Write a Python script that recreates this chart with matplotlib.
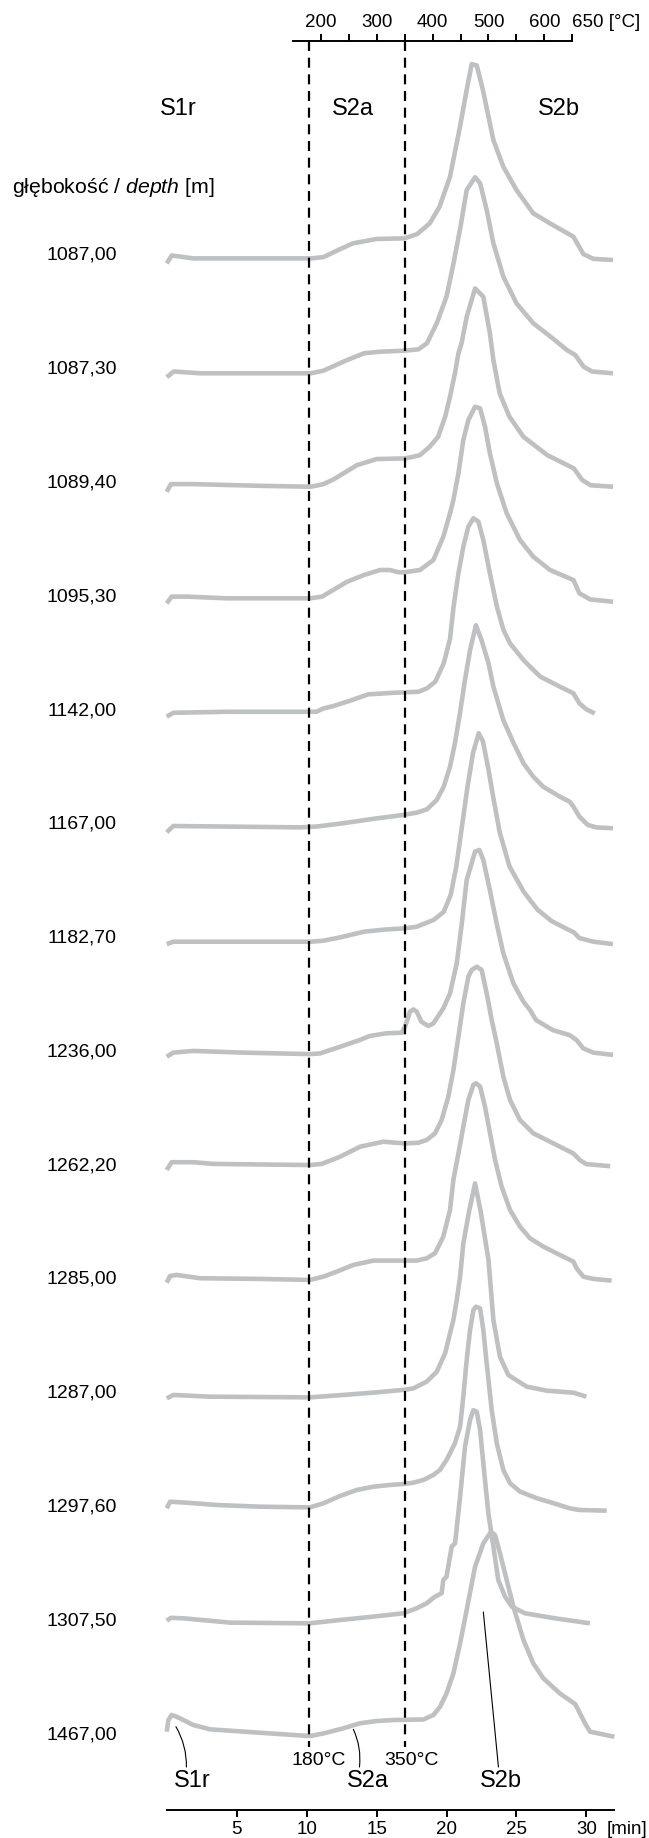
import matplotlib.pyplot as plt
import numpy as np

plt.rcParams['font.family'] = ['Liberation Sans', 'DejaVu Sans']
plt.rcParams['mathtext.fontset'] = 'custom'
plt.rcParams['mathtext.rm'] = 'Liberation Sans'
plt.rcParams['mathtext.it'] = 'Liberation Sans:italic'

# depth of each sample, top to bottom
depths = ['1087,00', '1087,30', '1089,40', '1095,30', '1142,00', '1167,00', '1182,70',
          '1236,00', '1262,20', '1285,00', '1287,00', '1297,60', '1307,50', '1467,00']

# pyrograms: time [min] and signal (in units of the row spacing)
time_1087_00 = [0, 0.36, 1.9, 5.0, 10.3, 11.2, 12.3, 13.3, 15.0, 17.0, 17.9, 18.8, 19.5, 20.25, 20.96,
                21.44, 21.8, 22.16, 22.6, 23.35, 24.06, 25.0, 26.2, 27.6, 29.07, 29.78, 30.5, 31.9]
sig_1087_00 = [-0.10, -0.03, -0.056, -0.056, -0.056, -0.045, 0.02, 0.076, 0.115, 0.12, 0.158, 0.252, 0.398,
               0.662, 1.10, 1.424, 1.652, 1.64, 1.424, 0.984, 0.75, 0.545, 0.34, 0.237, 0.135, -0.018, -0.06, -0.07]

time_1087_30 = [0, 0.5, 2.4, 10.3, 11.2, 12.9, 14.1, 15.25, 17.0, 18.0, 18.6, 19.3, 20.0, 20.5, 21.0, 21.44,
                22.04, 22.4, 22.87, 23.35, 24.06, 25.0, 26.2, 27.6, 28.6, 29.2, 29.8, 30.4, 31.9]
sig_1087_30 = [-0.10, -0.05, -0.066, -0.066, -0.043, 0.051, 0.11, 0.124, 0.133, 0.145, 0.198, 0.374, 0.608,
               0.90, 1.223, 1.545, 1.657, 1.604, 1.37, 1.077, 0.783, 0.549, 0.374, 0.24, 0.139, 0.095,
               -0.008, -0.05, -0.066]

time_1089_40 = [0, 0.3, 1.9, 6.7, 10.3, 11.2, 11.9, 13.6, 15.0, 17.0, 17.6, 18.1, 18.8, 19.4, 19.9, 20.25,
                20.6, 20.85, 21.08, 21.44, 22.04, 22.63, 23.1, 23.35, 23.8, 24.5, 25.5, 27.2, 29.1, 29.7,
                30.3, 31.9]
sig_1089_40 = [-0.107, -0.04, -0.04, -0.055, -0.063, -0.04, 0.0, 0.127, 0.18, 0.186, 0.2, 0.215, 0.289,
               0.376, 0.552, 0.728, 0.933, 1.109, 1.2, 1.43, 1.68, 1.607, 1.285, 1.05, 0.757, 0.552, 0.376,
               0.215, 0.098, -0.004, -0.05, -0.063]

time_1095_30 = [0, 0.35, 1.5, 4.3, 10.24, 11.1, 12.9, 14.1, 15.25, 15.96, 16.56, 17.0, 18.1, 19.06, 19.77,
                20.25, 20.49, 20.85, 21.2, 21.56, 22.04, 22.4, 22.75, 23.1, 23.6, 24.3, 25.25, 26.2, 27.4,
                29.07, 29.5, 30.26, 31.9]
sig_1095_30 = [-0.088, -0.029, -0.029, -0.044, -0.044, -0.029, 0.102, 0.161, 0.205, 0.205, 0.185, 0.185,
               0.205, 0.293, 0.498, 0.703, 0.82, 1.055, 1.348, 1.523, 1.64, 1.626, 1.465, 1.23, 0.967, 0.703,
               0.469, 0.322, 0.205, 0.117, 0.0, -0.053, -0.074]

time_1142_00 = [0, 0.47, 4.3, 10.7, 11.2, 11.9, 13.1, 14.4, 16.2, 18.0, 18.6, 19.2, 19.8, 20.25, 20.5, 20.85,
                21.2, 21.56, 21.92, 22.28, 22.63, 23.1, 23.6, 24.07, 24.54, 25.5, 25.97, 26.7, 28.1, 29.07,
                29.5, 30.0, 30.6]
sig_1142_00 = [-0.084, -0.05, -0.041, -0.041, -0.012, 0.009, 0.056, 0.112, 0.126, 0.135, 0.165, 0.224, 0.385,
               0.6, 0.88, 1.176, 1.41, 1.586, 1.66, 1.63, 1.469, 1.176, 0.883, 0.678, 0.56, 0.414, 0.355,
               0.268, 0.18, 0.121, 0.033, -0.02, -0.055]

time_1167_00 = [0, 0.47, 4.3, 9.5, 10.7, 12.6, 15.0, 16.9, 17.9, 18.6, 19.3, 19.8, 20.25, 20.6, 20.96, 21.32,
                21.68, 22.1, 22.5, 23.0, 23.35, 24.06, 24.8, 25.5, 26.2, 26.9, 28.1, 28.8, 29.07, 29.5, 30.1,
                30.7, 31.9]
sig_1167_00 = [-0.1, -0.045, -0.05, -0.057, -0.05, -0.021, 0.022, 0.052, 0.073, 0.102, 0.184, 0.301, 0.477,
               0.682, 0.946, 1.24, 1.5, 1.72, 1.59, 1.385, 1.18, 0.886, 0.682, 0.506, 0.389, 0.301, 0.213,
               0.169, 0.125, 0.037, -0.036, -0.057, -0.065]

time_1182_70 = [0, 0.47, 10.3, 11.2, 12.4, 14.1, 15.7, 17.0, 17.87, 18.58, 19.06, 19.8, 20.3, 20.7, 21.1,
                21.5, 21.9, 22.3, 22.6, 23.0, 23.35, 23.8, 24.5, 25.5, 26.5, 27.5, 28.6, 29.1, 29.5, 30.5, 31.9]
sig_1182_70 = [-0.083, -0.062, -0.062, -0.053, -0.024, 0.026, 0.046, 0.055, 0.07, 0.105, 0.128, 0.2, 0.35,
               0.6, 0.95, 1.3, 1.6, 1.77, 1.7, 1.45, 1.2, 0.9, 0.6, 0.38, 0.22, 0.12, 0.05, 0.02, -0.03,
               -0.062, -0.083]

time_1236_00 = [0, 0.47, 1.9, 5.5, 10.24, 10.96, 12.4, 13.8, 14.5, 15.7, 16.8, 17.03, 17.39, 17.63, 17.87,
                18.2, 18.7, 19.06, 19.77, 20.25, 20.73, 21.08, 21.44, 21.8, 22.04, 22.35, 22.63, 23.1, 23.58,
                24.06, 24.78, 25.5, 25.97, 26.4, 27.6, 28.8, 29.3, 29.78, 30.5, 31.9]
sig_1236_00 = [-0.073, -0.037, -0.022, -0.037, -0.05, -0.044, 0.015, 0.074, 0.109, 0.133, 0.138, 0.191, 0.323,
               0.343, 0.323, 0.235, 0.197, 0.22, 0.352, 0.484, 0.748, 1.085, 1.48, 1.63, 1.73, 1.744, 1.656,
               1.39, 1.1, 0.835, 0.572, 0.41, 0.337, 0.249, 0.161, 0.117, 0.073, 0.0, -0.037, -0.057]

time_1262_20 = [0, 0.35, 1.9, 3.33, 6.67, 10.24, 11.08, 12.39, 13.82, 15.48, 16.98, 17.99, 18.58, 19.18,
                19.65, 20.13, 20.49, 20.85, 21.2, 21.56, 21.8, 22.16, 22.51, 22.87, 23.23, 23.59, 24.06, 24.54,
                25.25, 26.2, 27.4, 28.35, 29.07, 29.54, 30.0, 31.7]
sig_1262_20 = [-0.068, 0.0, 0.0, -0.015, -0.02, -0.025, -0.015, 0.048, 0.136, 0.18, 0.165, 0.171, 0.195,
               0.254, 0.371, 0.576, 0.81, 1.104, 1.396, 1.63, 1.69, 1.718, 1.69, 1.485, 1.25, 1.045, 0.752,
               0.547, 0.371, 0.254, 0.18, 0.121, 0.077, 0.018, -0.017, -0.035]

time_1285_00 = [0, 0.24, 0.71, 2.38, 6.67, 10.24, 11.2, 12.15, 13.34, 14.77, 16.98, 17.87, 18.58, 19.18,
                19.77, 20.25, 20.49, 20.85, 21.2, 21.56, 21.92, 22.1, 22.4, 22.75, 23.11, 23.47, 23.94, 24.54,
                25.25, 25.97, 26.92, 28.1, 29.07, 29.3, 29.78, 30.5, 31.8]
sig_1285_00 = [-0.059, 0.0, 0.009, -0.02, -0.026, -0.035, -0.006, 0.038, 0.097, 0.135, 0.135, 0.135, 0.155,
               0.2, 0.346, 0.58, 0.844, 1.078, 1.312, 1.547, 1.68, 1.694, 1.665, 1.488, 1.254, 1.02, 0.785,
               0.58, 0.434, 0.331, 0.258, 0.185, 0.126, 0.067, -0.006, -0.026, -0.041]

time_1287_00 = [0, 0.47, 3.1, 10.24, 12.6, 15.0, 17.0, 17.63, 18.58, 19.3, 19.9, 20.25, 20.49, 20.73, 20.97,
                21.2, 21.6, 22.04, 22.45, 23.0, 23.35, 23.82, 24.42, 25.73, 27.16, 29.07, 30.0]
sig_1287_00 = [-0.076, -0.046, -0.061, -0.067, -0.046, -0.023, 0.0, 0.012, 0.071, 0.158, 0.32, 0.496, 0.613,
               0.789, 0.994, 1.286, 1.56, 1.814, 1.56, 1.14, 0.613, 0.29, 0.129, 0.027, -0.008, -0.026, -0.061]

time_1297_60 = [0, 0.24, 1.43, 3.57, 6.67, 10.24, 11.2, 12.39, 13.58, 14.77, 15.96, 17.0, 17.63, 18.35,
                19.06, 19.53, 20.0, 20.25, 20.6, 20.97, 21.2, 21.44, 21.68, 21.92, 22.1, 22.4, 22.63, 22.87,
                23.23, 23.59, 24.06, 24.54, 25.25, 26.44, 27.64, 28.8, 29.5, 31.45]
sig_1297_60 = [-0.042, 0.016, 0.007, -0.013, -0.028, -0.034, 0.002, 0.066, 0.119, 0.148, 0.163, 0.172, 0.183,
               0.207, 0.251, 0.295, 0.383, 0.441, 0.53, 0.676, 0.94, 1.26, 1.525, 1.70, 1.73, 1.715, 1.525,
               1.232, 0.822, 0.53, 0.295, 0.178, 0.105, 0.047, 0.003, -0.042, -0.057, -0.063]

time_1307_50 = [0, 0.3, 1.19, 4.53, 10.24, 12.39, 14.77, 16.91, 17.87, 18.58, 19.18, 19.65, 19.77, 20.0,
                20.37, 20.61, 20.97, 21.32, 21.68, 21.92, 22.16, 22.4, 22.63, 22.99, 23.35, 23.7, 24.18, 24.66,
                25.6, 27.75, 30.25]
sig_1307_50 = [-0.03, -0.005, -0.009, -0.047, -0.053, -0.024, 0.006, 0.035, 0.079, 0.123, 0.182, 0.211,
               0.328, 0.357, 0.621, 0.65, 1.06, 1.5, 1.734, 1.82, 1.807, 1.646, 1.353, 0.914, 0.62, 0.328,
               0.182, 0.094, 0.035, -0.009, -0.053]

time_1467_00 = [0, 0.12, 0.35, 0.59, 1.19, 1.9, 3.1, 6.67, 10.24, 11.2, 12.6, 13.8, 15.0, 16.2, 18.35, 19.06,
                19.54, 20.0, 20.49, 20.97, 21.44, 22.04, 22.63, 23.18, 23.47, 23.82, 24.3, 24.78, 25.5, 26.2,
                26.92, 28.1, 29.2, 29.54, 29.9, 30.26, 32.0]
sig_1467_00 = [-0.006, 0.097, 0.141, 0.132, 0.097, 0.053, 0.015, -0.015, -0.044, -0.021, 0.023, 0.068, 0.088,
               0.097, 0.102, 0.141, 0.214, 0.331, 0.507, 0.771, 1.064, 1.445, 1.65, 1.752, 1.723, 1.562,
               1.328, 1.093, 0.8, 0.595, 0.463, 0.331, 0.237, 0.155, 0.068, -0.006, -0.05]

curves = [(time_1087_00, sig_1087_00), (time_1087_30, sig_1087_30), (time_1089_40, sig_1089_40),
          (time_1095_30, sig_1095_30), (time_1142_00, sig_1142_00), (time_1167_00, sig_1167_00),
          (time_1182_70, sig_1182_70), (time_1236_00, sig_1236_00), (time_1262_20, sig_1262_20),
          (time_1285_00, sig_1285_00), (time_1287_00, sig_1287_00), (time_1297_60, sig_1297_60),
          (time_1307_50, sig_1307_50), (time_1467_00, sig_1467_00)]

temp_ticks = [200, 250, 300, 350, 400, 450, 500, 550, 600, 650]
temp_labels = ['200', '', '300', '', '400', '', '500', '', '600', '650 [°C]']
time_ticks = [5, 10, 15, 20, 25, 30]
limit_temps = [180, 350]
regions = ['S1r', 'S2a', 'S2b']


def to_temp(t):
    return 25 * np.asarray(t) - 75  # 25 C/min heating


def to_time(T):
    return (np.asarray(T) + 75) / 25


fig = plt.figure(figsize=(6.49, 18.38), dpi=100)
ax = fig.add_axes([0.2569, 0.01523, 0.6898, 0.9626])
ax.set_xlim(0, 32)
ax.set_ylim(-13.694, 1.857)

grey = '#bfc0c2'
for i, (t, s) in enumerate(curves):
    ax.plot(t, np.array(s) - i, color=grey, lw=3.3, solid_joinstyle='round',
            solid_capstyle='butt', clip_on=False, zorder=2)
    ax.text(-6.08, -i - 0.07, depths[i], ha='center', va='baseline', fontsize=14)

ybot = -13.14
for T in limit_temps:
    x = float(to_time(T))
    ax.plot([x, x], [1.857, ybot], color='k', lw=1.6, dashes=(4.5, 3), zorder=3, clip_on=False)

ax.text(-11.08, 0.516, 'głębokość / $\\mathit{depth}$ [m]', fontsize=15.3, va='baseline', ha='left')

# region names at the top
for name, x in zip(regions, [0.85, 13.28, 28.06]):
    ax.text(x, 1.204, name, ha='center', va='baseline', fontsize=17)

# region names at the bottom with leader lines
arrow = dict(arrowstyle='-', lw=0.8, color='k', shrinkA=0, shrinkB=0)
ax.annotate(regions[0], xy=(0.66, -12.962), xytext=(1.79, -13.49), ha='center', va='baseline',
            fontsize=17, arrowprops=dict(arrow, connectionstyle='arc3,rad=0.15', relpos=(0.35, 1)))
ax.annotate(regions[1], xy=(13.34, -12.985), xytext=(14.35, -13.49), ha='center', va='baseline',
            fontsize=17, arrowprops=dict(arrow, connectionstyle='arc3,rad=0.15', relpos=(0.3, 1)))
ax.annotate(regions[2], xy=(22.63, -11.953), xytext=(23.88, -13.49), ha='center', va='baseline',
            fontsize=17, arrowprops=dict(arrow, relpos=(0.45, 1)))

for T, x in zip(limit_temps, [10.84, 17.5]):
    ax.text(x, -13.30, f'{T}°C', ha='center', va='baseline', fontsize=14)

# axes
for side in ['left', 'right']:
    ax.spines[side].set_visible(False)
ax.spines['top'].set_bounds(float(to_time(150)), float(to_time(650)))
ax.spines['bottom'].set_bounds(0, 32)
ax.spines['top'].set_linewidth(1.4)
ax.spines['bottom'].set_linewidth(1.4)
ax.set_yticks([])
ax.set_xticks(time_ticks)
ax.tick_params(axis='x', direction='out', length=5.3, width=1.4, labelsize=13.5, pad=2.5)
ax.annotate('[min]', xy=(31.45, 0), xycoords=('data', 'axes fraction'), xytext=(0, -7.8),
            textcoords='offset points', ha='left', va='top', fontsize=13.5)

sec = ax.secondary_xaxis('top', functions=(to_temp, to_time))
sec.spines['top'].set_visible(False)
sec.set_xticks(temp_ticks, temp_labels)
sec.tick_params(direction='out', length=5.3, width=1.4, labelsize=13.5, pad=2)
sec.get_xticklabels()[-1].set_ha('left')

fig.savefig('out.png', dpi=100)
